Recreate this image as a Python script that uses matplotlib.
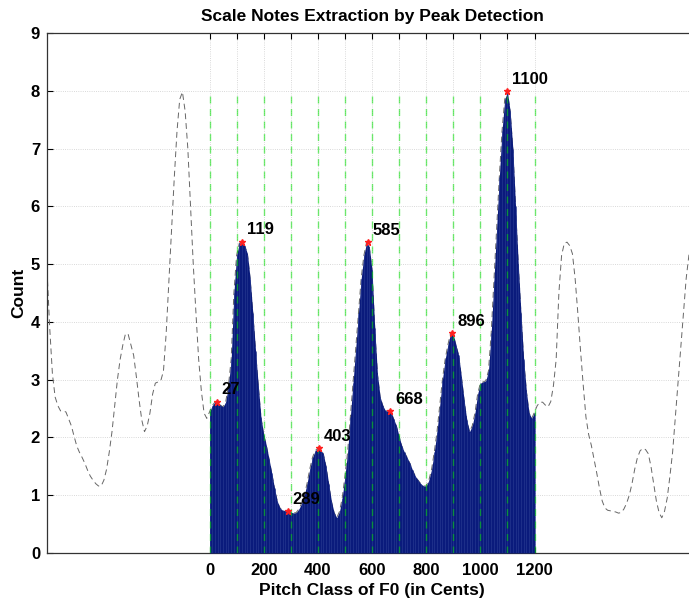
import numpy as np
import matplotlib
matplotlib.use('Agg')
import matplotlib.pyplot as plt

plt.rcParams['font.family'] = ['Liberation Sans', 'DejaVu Sans']
plt.rcParams['font.weight'] = 'bold'

# pitch-class histogram, sampled every 10 cents
cents = np.arange(0, 1201, 10)
counts = np.array([
    2.44, 2.55, 2.61, 2.61, 2.56, 2.53, 2.62, 2.90, 3.35, 4.50,   # 0-90
    5.15, 5.36, 5.38, 5.32, 5.18, 4.75, 4.15, 3.50, 2.90, 2.35,   # 100-190
    2.05, 1.86, 1.62, 1.38, 1.12, 0.90, 0.78, 0.74, 0.73, 0.72,   # 200-290
    0.71, 0.69, 0.70, 0.76, 0.86, 1.00, 1.20, 1.45, 1.65, 1.77,   # 300-390
    1.81, 1.79, 1.72, 1.50, 1.20, 0.90, 0.70, 0.61, 0.72, 0.95,   # 400-490
    1.33, 1.75, 2.35, 2.95, 3.55, 4.15, 4.75, 5.15, 5.38, 5.30,   # 500-590
    4.90, 3.90, 3.10, 2.70, 2.55, 2.46, 2.46, 2.44, 2.32, 2.20,   # 600-690
    2.02, 1.85, 1.74, 1.65, 1.55, 1.43, 1.33, 1.26, 1.20, 1.16,   # 700-790
    1.16, 1.26, 1.45, 1.75, 2.10, 2.55, 3.00, 3.35, 3.60, 3.80,   # 800-890
    3.78, 3.60, 3.42, 3.05, 2.65, 2.30, 2.10, 2.20, 2.42, 2.75,   # 900-990
    2.94, 2.96, 2.98, 3.15, 3.80, 4.70, 5.60, 6.50, 7.30, 7.85,   # 1000-1090
    7.98, 7.65, 7.00, 6.00, 5.00, 4.15, 3.35, 2.80, 2.42, 2.33,   # 1100-1190
    2.44])

peak_cents = [27, 119, 289, 403, 585, 668, 896, 1100]
peak_counts = [2.62, 5.39, 0.72, 1.81, 5.38, 2.46, 3.81, 7.99]

semitones = np.arange(0, 1201, 100)

fig = plt.figure(figsize=(6.89, 5.99), dpi=100)
ax = fig.add_axes([47/689, 46/599, 650/689, 520/599])

# periodic extension of the histogram (one octave either side)
x_ext = np.concatenate([cents - 1200, cents[1:], cents[1:] + 1200])
y_ext = np.concatenate([counts, counts[1:], counts[1:]])
ax.plot(x_ext, y_ext, ls=(0, (6, 4)), color='#666666', lw=0.7, zorder=2)

ax.fill_between(cents, counts, color='#0a1b7c', lw=0, zorder=3)
ax.vlines(cents, 0, counts, colors='#24378f', lw=0.5, zorder=3)

ax.vlines(semitones, 0, counts.max(), colors='#00e000', linestyles=(0, (5, 4)),
          lw=1.0, alpha=0.55, zorder=4)

ax.plot(peak_cents, peak_counts, '*', color='#ff2020', ms=4.5, zorder=5)
for c, v in zip(peak_cents, peak_counts):
    ax.annotate(str(c), (c, v), xytext=(3.5, 3), textcoords='offset points',
                fontsize=12, fontweight='bold', ha='left', va='bottom', zorder=6)

ax.set_xlim(-600, 1800)
ax.set_ylim(0, 9)
ax.set_xticks(semitones)
ax.set_xticklabels([str(s) if s % 200 == 0 else '' for s in semitones])
ax.set_yticks(np.arange(0, 10))
ax.tick_params(direction='in', top=True, right=True, length=4, labelsize=12, width=0.8)
ax.tick_params(axis='x', pad=7)
ax.tick_params(axis='y', pad=5)
ax.grid(True, ls=':', color='#cccccc', lw=0.6)
ax.set_axisbelow(True)
for s in ax.spines.values():
    s.set_color('#333333')
    s.set_linewidth(0.9)

ax.set_title('Scale Notes Extraction by Peak Detection', fontsize=12.5, fontweight='bold', pad=9)
ax.set_xlabel('Pitch Class of F0 (in Cents)', fontsize=12.5, fontweight='bold', labelpad=4)
ax.set_ylabel('Count', fontsize=12.5, fontweight='bold', labelpad=3)

fig.savefig('out.png', dpi=100)
